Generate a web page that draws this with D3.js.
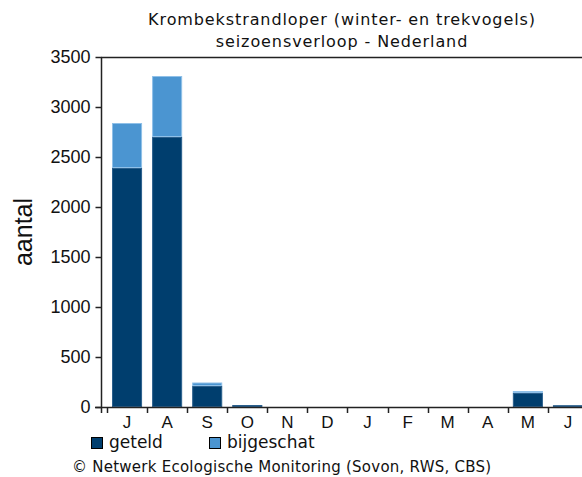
<!DOCTYPE html>
<html>
<head>
<meta charset="utf-8">
<script src="https://cdn.jsdelivr.net/npm/d3@7"></script>
<style>
  body { margin: 0; background: #fff; }
  svg { display: block; overflow: hidden; }
</style>
</head>
<body>
<div id="chart"></div>
<script>
// Seizoensverloop Krombekstrandloper, juli t/m juni
const months = ["J", "A", "S", "O", "N", "D", "J", "F", "M", "A", "M", "J"];
const geteld = [2390, 2700, 210, 20, 0, 0, 0, 0, 0, 0, 140, 18];
const bijgeschat = [450, 610, 35, 3, 0, 0, 0, 0, 0, 0, 20, 2];
const yTicks = [0, 500, 1000, 1500, 2000, 2500, 3000, 3500];
const seriesNames = ["geteld", "bijgeschat"];
const colors = { geteld: "#003e6e", bijgeschat: "#4b95d1" };
const strokes = { geteld: "#2a5f8c", bijgeschat: "#8fc0e8" };

const W = 582, H = 477;
const plotLeft = 101, plotTop = 57, plotBottom = 407;

const svg = d3.select("#chart").append("svg")
    .attr("width", W).attr("height", H);

const rows = months.map((m, i) => ({ i, month: m, geteld: geteld[i], bijgeschat: bijgeschat[i] }));

const x = d3.scaleBand()
    .domain(d3.range(months.length))
    .range([107, 588])
    .paddingInner(0.25)
    .paddingOuter(0.125);

const y = d3.scaleLinear().domain([0, 3500]).range([plotBottom, plotTop]);

const stacked = d3.stack().keys(seriesNames)(rows);

// bars
svg.append("g").selectAll("g")
    .data(stacked)
    .join("g")
    .attr("fill", d => colors[d.key])
    .attr("stroke", d => strokes[d.key])
    .attr("stroke-width", 1)
    .selectAll("rect")
    .data(d => d.filter(p => p[1] > p[0]))
    .join("rect")
    .attr("x", d => x(d.data.i) + 0.5)
    .attr("width", x.bandwidth() - 1)
    .attr("y", d => y(d[1]) + 0.5)
    .attr("height", d => Math.max(0, y(d[0]) - y(d[1]) - 1));

// frame lines
const axisColor = "#222";
svg.append("line")
    .attr("x1", plotLeft).attr("x2", W).attr("y1", plotTop + 0.5).attr("y2", plotTop + 0.5)
    .attr("stroke", axisColor).attr("stroke-width", 1.5);
svg.append("line")
    .attr("x1", 95).attr("x2", W).attr("y1", plotBottom + 0.5).attr("y2", plotBottom + 0.5)
    .attr("stroke", axisColor).attr("stroke-width", 1.5);
svg.append("line")
    .attr("x1", plotLeft + 0.5).attr("x2", plotLeft + 0.5).attr("y1", plotTop).attr("y2", plotBottom + 6)
    .attr("stroke", axisColor).attr("stroke-width", 1.5);

// y axis
const yAxis = d3.axisLeft(y).tickValues(yTicks).tickSize(6).tickPadding(5).tickFormat(d3.format("d"));
const gy = svg.append("g").attr("transform", `translate(${plotLeft + 0.5},0)`).call(yAxis);
gy.select(".domain").remove();
gy.selectAll(".tick line").attr("stroke", axisColor).attr("stroke-width", 1.5);
gy.selectAll(".tick text")
    .attr("font-family", "Liberation Sans, Arial, sans-serif")
    .attr("font-size", 18).attr("fill", "#111");

// x axis: ticks at band boundaries, labels centered in bands
const gx = svg.append("g");
gx.selectAll("line")
    .data(d3.range(months.length))
    .join("line")
    .attr("x1", i => Math.round(x(i) - x.step() * x.paddingInner() / 2) + 0.5)
    .attr("x2", i => Math.round(x(i) - x.step() * x.paddingInner() / 2) + 0.5)
    .attr("y1", plotBottom).attr("y2", plotBottom + 6)
    .attr("stroke", axisColor).attr("stroke-width", 1.5);
gx.selectAll("text")
    .data(rows)
    .join("text")
    .attr("x", d => x(d.i) + x.bandwidth() / 2)
    .attr("y", 428)
    .attr("text-anchor", "middle")
    .attr("font-family", "Liberation Sans, Arial, sans-serif")
    .attr("font-size", 17).attr("fill", "#111")
    .text(d => d.month);

// y label
svg.append("text")
    .attr("transform", "translate(32,232) rotate(-90)")
    .attr("text-anchor", "middle")
    .attr("font-family", "Liberation Sans, Arial, sans-serif")
    .attr("font-size", 25).attr("fill", "#111")
    .text("aantal");

// title
const title = ["Krombekstrandloper (winter- en trekvogels)", "seizoensverloop - Nederland"];
svg.append("g").selectAll("text")
    .data(title)
    .join("text")
    .attr("x", 342)
    .attr("y", (d, i) => 25 + i * 22)
    .attr("text-anchor", "middle")
    .attr("font-family", "DejaVu Sans, Verdana, sans-serif")
    .attr("font-size", 16).attr("letter-spacing", 0.9).attr("fill", "#111")
    .text(d => d);

// legend
const legend = svg.append("g").selectAll("g")
    .data(seriesNames)
    .join("g")
    .attr("transform", (d, i) => `translate(${i === 0 ? 91 : 209},437)`);
legend.append("rect")
    .attr("x", 0.5).attr("y", 0.5).attr("width", 11).attr("height", 11)
    .attr("fill", d => colors[d]).attr("stroke", "#000");
legend.append("text")
    .attr("x", 18).attr("y", 11)
    .attr("font-family", "DejaVu Sans, Verdana, sans-serif")
    .attr("font-size", 17).attr("fill", "#111")
    .text(d => d);

svg.append("text")
    .attr("x", 72).attr("y", 472)
    .attr("font-family", "DejaVu Sans, Verdana, sans-serif")
    .attr("font-size", 15).attr("letter-spacing", 0.25).attr("fill", "#111")
    .text("© Netwerk Ecologische Monitoring (Sovon, RWS, CBS)");
</script>
</body>
</html>
